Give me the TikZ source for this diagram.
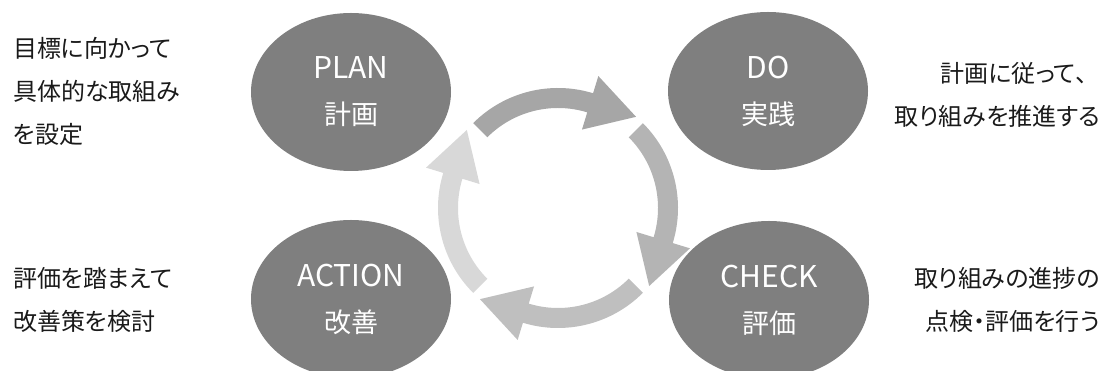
\documentclass[tikz,border=0pt]{standalone}
\usepackage{fontspec}
\setmainfont{Noto Sans CJK JP}
\newfontfamily\jpp{Noto Sans CJK JP}[RawFeature=+palt]
\usetikzlibrary{shapes.geometric}
\definecolor{ellgray}{HTML}{7F7F7F}
\definecolor{arrA}{HTML}{A6A6A6}
\definecolor{arrB}{HTML}{B4B4B4}
\definecolor{arrC}{HTML}{BFBFBF}
\definecolor{arrD}{HTML}{D8D8D8}
\definecolor{sidetext}{HTML}{1A1A1A}
\tikzset{
  phase/.style={ellipse, fill=ellgray, draw=none, minimum width=200pt, minimum height=158pt,
    inner sep=0pt, text=white, align=center, font=\fontsize{27}{46}\selectfont},
  side/.style={inner sep=0pt, text=sidetext, font=\jpp\fontsize{24}{43}\selectfont}
}
\begin{document}
\begin{tikzpicture}[x=1pt,y=1pt]
\useasboundingbox (0,0) rectangle (1105,371);
% cycle arrows
\begin{scope}[shift={(558,163)}]
\foreach \t/\c in {135/arrA,45/arrB,-45/arrC,-135/arrD}{
  \pgfmathsetmacro\b{\t-62}
  \pgfmathsetmacro\tp{\b-23.57}
  \fill[\c] (\t:120) arc[start angle=\t, end angle=\b, radius=120]
    -- (\b:138) -- (\tp:120.02) -- (\b:82) -- (\b:100)
    arc[start angle=\b, end angle=\t, radius=100] -- cycle;
}
\end{scope}
% phases
\node[phase] (plan) at (351,279) {{\fontsize{30}{46}\selectfont PLAN}\\計画};
\node[phase] (do) at (768,280) {{\fontsize{30}{46}\selectfont DO}\\実践};
\node[phase] (check) at (769,71) {{\fontsize{30}{46}\selectfont CHECK}\\評価};
\node[phase] (action) at (351,72) {{\fontsize{30}{46}\selectfont ACTION}\\改善};
% side texts
\node[side, anchor=west, align=left] (tplan) at (13,280) {目標に向かって\\具体的な取組み\\を設定};
\node[side, anchor=east, align=right] (tdo) at (1100,276) {計画に従って{\rmfamily 、}\\取り組みを推進する};
\node[side, anchor=east, align=right] (tcheck) at (1100,71) {取り組みの進捗の\\点検・評価を行う};
\node[side, anchor=west, align=left] (taction) at (13,71) {評価を踏まえて\\改善策を検討};
\end{tikzpicture}
\end{document}
